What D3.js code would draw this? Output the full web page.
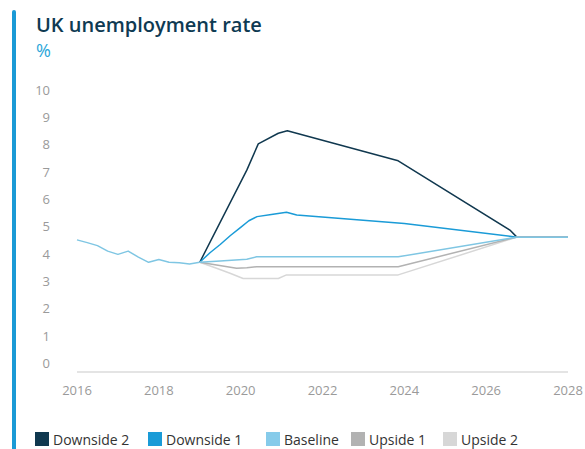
<!DOCTYPE html>
<html>
<head>
<meta charset="utf-8">
<script src="https://cdn.jsdelivr.net/npm/d3@7"></script>
<style>
  html, body { margin: 0; padding: 0; background: #fff; }
  svg { display: block; font-family: "Open Sans", "Noto Sans", sans-serif; }
</style>
</head>
<body>
<svg id="chart" width="585" height="449"></svg>
<script>
// ---- data ----
const yTicks = [0, 1, 2, 3, 4, 5, 6, 7, 8, 9, 10];
const xTicks = [2016, 2018, 2020, 2022, 2024, 2026, 2028];

const historyYears  = [2016.0, 2016.25, 2016.5, 2016.75, 2017.0, 2017.25, 2017.5, 2017.75, 2018.0, 2018.25, 2018.5, 2018.75, 2019.0];
const historyValues = [4.52, 4.42, 4.31, 4.11, 3.99, 4.11, 3.89, 3.70, 3.80, 3.70, 3.68, 3.64, 3.70];

const downside2Years  = [2019.0, 2020.15, 2020.43, 2020.92, 2021.14, 2023.85, 2026.58, 2026.75, 2028.0];
const downside2Values = [3.70, 7.07, 8.03, 8.42, 8.51, 7.41, 4.88, 4.62, 4.62];

const downside1Years  = [2019.0, 2019.25, 2019.5, 2019.75, 2020.0, 2020.2, 2020.4, 2020.75, 2021.12, 2021.37, 2024.0, 2026.75, 2028.0];
const downside1Values = [3.70, 4.05, 4.35, 4.68, 4.98, 5.22, 5.37, 5.45, 5.53, 5.43, 5.12, 4.62, 4.62];

const baselineYears  = [2019.0, 2019.5, 2020.15, 2020.39, 2023.85, 2026.75, 2028.0];
const baselineValues = [3.70, 3.75, 3.81, 3.90, 3.90, 4.62, 4.62];

const upside1Years  = [2019.0, 2019.41, 2019.9, 2020.15, 2020.39, 2023.85, 2026.75, 2028.0];
const upside1Values = [3.70, 3.60, 3.48, 3.50, 3.54, 3.54, 4.62, 4.62];

const upside2Years  = [2019.0, 2019.41, 2019.74, 2020.06, 2020.92, 2021.12, 2023.85, 2026.75, 2028.0];
const upside2Values = [3.70, 3.48, 3.30, 3.11, 3.11, 3.24, 3.24, 4.62, 4.62];

const seriesNames = ["Downside 2", "Downside 1", "Baseline", "Upside 1", "Upside 2"];
const seriesColors = ["#10384f", "#1a9bd7", "#86cbea", "#b2b2b2", "#d7d7d7"];

// ---- chart ----
const svg = d3.select("#chart");

const x = d3.scaleLinear().domain([2016, 2028]).range([77, 568]);
const y = d3.scaleLinear().domain([0, 10]).range([363.5, 90]);

// left accent bar
svg.append("rect")
  .attr("x", 12).attr("y", 10).attr("width", 4).attr("height", 445)
  .attr("rx", 2).attr("fill", "#1a9ad6");

// title
svg.append("text")
  .attr("x", 36).attr("y", 32)
  .attr("font-size", 20).attr("font-weight", 600)
  .attr("fill", "#0e3a52")
  .text("UK unemployment rate");
svg.append("text")
  .attr("x", 36).attr("y", 57)
  .attr("font-size", 18)
  .attr("fill", "#2ba6d9")
  .text("%");

// y axis labels
svg.append("g").selectAll("text").data(yTicks).join("text")
  .attr("x", 50).attr("y", d => y(d))
  .attr("dy", "0.35em")
  .attr("text-anchor", "end")
  .attr("font-size", 13)
  .attr("fill", "#9a9a9a")
  .text(d => d);

// x axis line
svg.append("line")
  .attr("x1", x(2016)).attr("x2", x(2028))
  .attr("y1", y(0) + 8.5).attr("y2", y(0) + 8.5)
  .attr("stroke", "#c9c9c9").attr("stroke-width", 1);

// x axis labels
svg.append("g").selectAll("text").data(xTicks).join("text")
  .attr("x", d => x(d)).attr("y", 395)
  .attr("text-anchor", "middle")
  .attr("font-size", 13)
  .attr("fill", "#9a9a9a")
  .text(d => d);

const line = d3.line().x(d => x(d[0])).y(d => y(d[1]));
const zip = (a, b) => a.map((v, i) => [v, b[i]]);

const series = [
  { data: zip(downside2Years, downside2Values), color: seriesColors[0] },
  { data: zip(downside1Years, downside1Values), color: seriesColors[1] },
  { data: zip(upside2Years, upside2Values), color: seriesColors[4] },
  { data: zip(upside1Years, upside1Values), color: seriesColors[3] },
  { data: zip(baselineYears, baselineValues), color: "#7fc6e3" },
  { data: zip(historyYears, historyValues), color: "#7fc6e3" }
];

svg.append("g").selectAll("path").data(series).join("path")
  .attr("d", d => line(d.data))
  .attr("fill", "none")
  .attr("stroke", d => d.color)
  .attr("stroke-width", 1.5)
  .attr("stroke-linejoin", "round");

// legend
const legendX = [35, 148, 266, 351, 443];
const lg = svg.append("g").selectAll("g").data(seriesNames).join("g")
  .attr("transform", (d, i) => `translate(${legendX[i]},432)`);
lg.append("rect")
  .attr("width", 14).attr("height", 14)
  .attr("fill", (d, i) => seriesColors[i]);
lg.append("text")
  .attr("x", 18).attr("y", 13)
  .attr("font-size", 14)
  .attr("fill", "#333")
  .text(d => d);
</script>
</body>
</html>
